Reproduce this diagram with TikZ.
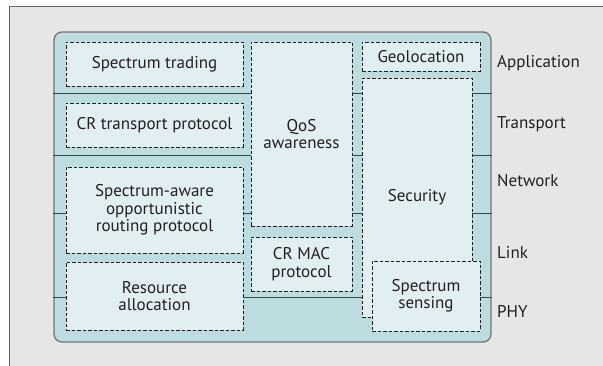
\documentclass[tikz,border=0pt]{standalone}
\usepackage{fontspec}
\setmainfont{PT Sans}
\definecolor{bggray}{HTML}{E6E6E6}
\definecolor{layerfill}{HTML}{BDDCDF}
\definecolor{boxfill}{HTML}{E1EFF3}
\definecolor{ink}{HTML}{231F20}
\tikzset{
  blk/.style={draw=ink, dash pattern=on 3.5pt off 2pt, fill=boxfill, line width=.9pt,
    align=center, inner sep=0pt, text=ink, font=\fontsize{17}{17.5}\selectfont},
  sep/.style={draw=ink!85, line width=1pt},
  lyr/.style={anchor=west, inner sep=2pt, text=ink, font=\fontsize{17}{17.5}\selectfont}
}
\begin{document}
\begin{tikzpicture}[x=1pt,y=-1pt]
  \useasboundingbox (0,0) rectangle (603,366);
  \fill[bggray] (9,7) rectangle (603,366);
  \draw[black!60, line width=1pt] (9,366) -- (9,7) -- (603,7);
  \node[draw=black!55, fill=layerfill, rounded corners=8pt, line width=1.3pt,
    minimum width=437pt, minimum height=310pt, inner sep=0pt] (stack) at (272.5,187) {};
  \node[blk, minimum width=177pt, minimum height=44pt] (trading) at (154.5,64) {Spectrum trading};
  \node[blk, minimum width=177pt, minimum height=44pt] (transp) at (154.5,125) {CR transport protocol};
  \node[blk, minimum width=177pt, minimum height=86pt] (aware) at (154.5,210) {Spectrum-aware\\opportunistic\\routing protocol};
  \node[blk, minimum width=177pt, minimum height=68pt] (alloc) at (154.5,296) {Resource\\allocation};
  \node[blk, minimum width=101pt, minimum height=184pt] (qos) at (301.5,134) {QoS\\awareness};
  \node[blk, minimum width=101pt, minimum height=54pt] (mac) at (301.5,264) {CR MAC\\protocol};
  \node[blk, minimum width=118pt, minimum height=29pt] (geo) at (421,56.5) {Geolocation};
  \node[blk, minimum width=110pt, minimum height=239pt] (sec) at (417,197.5) {Security};
  \node[blk, minimum width=108pt, minimum height=70pt] (sens) at (426,296) {Spectrum\\sensing};
  \draw[sep] (stack.west |- 0,94) -- (qos.west |- 0,94) (qos.east |- 0,94) -- (sec.west |- 0,94) (sec.east |- 0,94) -- (stack.east |- 0,94);
  \draw[sep] (stack.west |- 0,156) -- (qos.west |- 0,156) (qos.east |- 0,156) -- (sec.west |- 0,156) (sec.east |- 0,156) -- (stack.east |- 0,156);
  \draw[sep] (stack.west |- 0,214) -- (aware.west |- 0,214) (aware.east |- 0,214) -- (qos.west |- 0,214) (qos.east |- 0,214) -- (sec.west |- 0,214) (sec.east |- 0,214) -- (stack.east |- 0,214);
  \draw[sep] (stack.west |- 0,298) -- (alloc.west |- 0,298) (alloc.east |- 0,298) -- (sec.west |- 0,298) (sens.east |- 0,298) -- (stack.east |- 0,298);
  \node[lyr] (app) at (495,63) {Application};
  \node[lyr] (trn) at (495,124) {Transport};
  \node[lyr] (net) at (495,181) {Network};
  \node[lyr] (lnk) at (495,252) {Link};
  \node[lyr] (phy) at (495,311) {PHY};
\end{tikzpicture}
\end{document}
